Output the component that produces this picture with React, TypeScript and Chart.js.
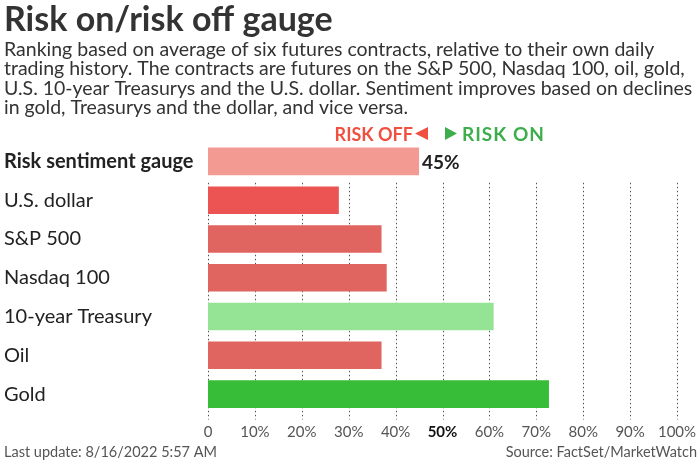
import React, { useEffect, useRef } from "react";
import { Chart, registerables } from "chart.js";

Chart.register(...registerables);

const FONT = "Lato, 'Noto Sans', sans-serif";

const titleText = "Risk on/risk off gauge";
const subtitleLines = [
  "Ranking based on average of six futures contracts, relative to their own daily",
  "trading history. The contracts are futures on the S&P 500, Nasdaq 100, oil, gold,",
  "U.S. 10-year Treasurys and the U.S. dollar. Sentiment improves based on declines",
  "in gold, Treasurys and the dollar, and vice versa.",
];
const riskOffText = "RISK OFF";
const riskOnText = "RISK ON";
const footerLeft = "Last update: 8/16/2022 5:57 AM";
const footerRight = "Source: FactSet/MarketWatch";

const categories = [
  "Risk sentiment gauge",
  "U.S. dollar",
  "S&P 500",
  "Nasdaq 100",
  "10-year Treasury",
  "Oil",
  "Gold",
];
const values = [45, 27.9, 37, 38.1, 60.9, 37, 72.7];
const barColors = ["#f39a93", "#ec5454", "#e0645f", "#e0645f", "#95e495", "#e0645f", "#38bd38"];
const tickValues = [0, 10, 20, 30, 40, 50, 60, 70, 80, 90, 100];
const tickLabels = ["0", "10%", "20%", "30%", "40%", "50%", "60%", "70%", "80%", "90%", "100%"];
const highlightTick = 50;

const gridPlugin = {
  id: "dottedGrid",
  beforeDatasetsDraw(chart: any) {
    const { ctx, chartArea, scales } = chart;
    const x = scales.x;
    const y = scales.y;
    const yStart = (y.getPixelForValue(0) + y.getPixelForValue(1)) / 2 + 2;
    const yEnd = chartArea.bottom + 6;
    ctx.save();
    ctx.setLineDash([1.5, 2.5]);
    ctx.strokeStyle = "#555";
    ctx.lineWidth = 1;
    tickValues.forEach((v) => {
      const px = Math.round(x.getPixelForValue(v)) + 0.5;
      ctx.beginPath();
      ctx.moveTo(px, yStart);
      ctx.lineTo(px, yEnd);
      ctx.stroke();
    });
    ctx.restore();
  },
};

const textPlugin = {
  id: "texts",
  afterDraw(chart: any) {
    const { ctx, scales, width } = chart;
    const x = scales.x;
    ctx.save();
    ctx.textAlign = "left";
    ctx.textBaseline = "alphabetic";
    // title
    ctx.fillStyle = "#333";
    ctx.font = `bold 34px ${FONT}`;
    ctx.fillText(titleText, 4, 31);
    // subtitle
    ctx.font = `19.5px ${FONT}`;
    const baselines = [55.5, 75, 94.5, 114];
    subtitleLines.forEach((l, i) => ctx.fillText(l, 4, baselines[i]));

    // risk on/off legend
    const cx = x.getPixelForValue(50);
    const red = "#f0503f";
    const green = "#3dae4b";
    ctx.font = `bold 18px ${FONT}`;
    ctx.fillStyle = red;
    ctx.textAlign = "right";
    ctx.fillText(riskOffText, cx - 29.5, 140.5);
    ctx.beginPath();
    ctx.moveTo(cx - 27.5, 133.5);
    ctx.lineTo(cx - 14.5, 127);
    ctx.lineTo(cx - 14.5, 140);
    ctx.closePath();
    ctx.fill();
    ctx.fillStyle = green;
    ctx.beginPath();
    ctx.moveTo(cx + 14.5, 133.5);
    ctx.lineTo(cx + 2.5, 127);
    ctx.lineTo(cx + 2.5, 140);
    ctx.closePath();
    ctx.fill();
    ctx.textAlign = "left";
    ctx.font = `bold 19px ${FONT}`;
    (ctx as any).letterSpacing = "1px";
    ctx.fillText(riskOnText, cx + 19.5, 140.5);
    (ctx as any).letterSpacing = "0px";

    // gauge value label
    const bar = chart.getDatasetMeta(0).data[0];
    ctx.fillStyle = "#222";
    ctx.font = `bold 19px ${FONT}`;
    ctx.textBaseline = "middle";
    ctx.fillText(`${values[0]}%`, bar.x + 3, bar.y + 1);

    // footer
    ctx.textBaseline = "alphabetic";
    ctx.fillStyle = "#555";
    ctx.font = `14.5px ${FONT}`;
    ctx.fillText(footerLeft, 4, 457);
    ctx.textAlign = "right";
    ctx.fillText(footerRight, width - 3, 457);
    ctx.restore();
  },
};

export default function App() {
  const canvasRef = useRef<HTMLCanvasElement | null>(null);

  useEffect(() => {
    document.body.style.margin = "0";
    let chart: Chart | null = null;
    let cancelled = false;
    const make = () => {
      if (cancelled || !canvasRef.current) return;
      chart = new Chart(canvasRef.current, {
        type: "bar",
        data: {
          labels: categories,
          datasets: [
            {
              data: values,
              backgroundColor: barColors,
              borderWidth: 0,
              barPercentage: 0.71,
              categoryPercentage: 1,
            },
          ],
        },
        options: {
          indexAxis: "y",
          responsive: false,
          maintainAspectRatio: false,
          animation: false,
          events: [],
          layout: { padding: { top: 142, left: 4, right: 23, bottom: 20 } },
          plugins: {
            legend: { display: false },
            tooltip: { enabled: false },
            title: { display: false },
          },
          scales: {
            x: {
              type: "linear",
              min: 0,
              max: 100,
              position: "bottom",
              grid: { display: false, drawTicks: false },
              border: { display: false },
              afterBuildTicks: (scale: any) => {
                scale.ticks = tickValues.map((v) => ({ value: v }));
              },
              afterFit: (scale: any) => {
                scale.height = 28.5;
                scale.paddingLeft = 0;
                scale.paddingRight = 0;
              },
              ticks: {
                padding: 10,
                maxRotation: 0,
                autoSkip: false,
                callback: (_v: any, i: number) => tickLabels[i],
                color: (c: any) => (c.tick && c.tick.value === highlightTick ? "#111" : "#555"),
                font: (c: any) => ({
                  family: FONT,
                  size: 15,
                  weight: c.tick && c.tick.value === highlightTick ? "bold" : "normal",
                }),
              },
            },
            y: {
              type: "category",
              grid: { display: false, drawTicks: false },
              border: { display: false },
              afterFit: (scale: any) => {
                scale.width = 204;
              },
              ticks: {
                crossAlign: "far",
                padding: 0,
                color: "#222",
                font: (c: any) => ({
                  family: FONT,
                  size: 20,
                  weight: c.index === 0 ? "bold" : "normal",
                }),
              },
            },
          },
        },
        plugins: [gridPlugin, textPlugin],
      } as any);
    };
    const fontsReady = (document as any).fonts
      ? Promise.all([
          (document as any).fonts.load(`bold 33px Lato`),
          (document as any).fonts.load(`17px Lato`),
        ]).catch(() => null)
      : Promise.resolve(null);
    fontsReady.then(make);
    return () => {
      cancelled = true;
      if (chart) chart.destroy();
    };
  }, []);

  return (
    <div style={{ width: 700, height: 462, position: "relative", background: "#fff" }}>
      <canvas ref={canvasRef} width={700} height={462} />
    </div>
  );
}
